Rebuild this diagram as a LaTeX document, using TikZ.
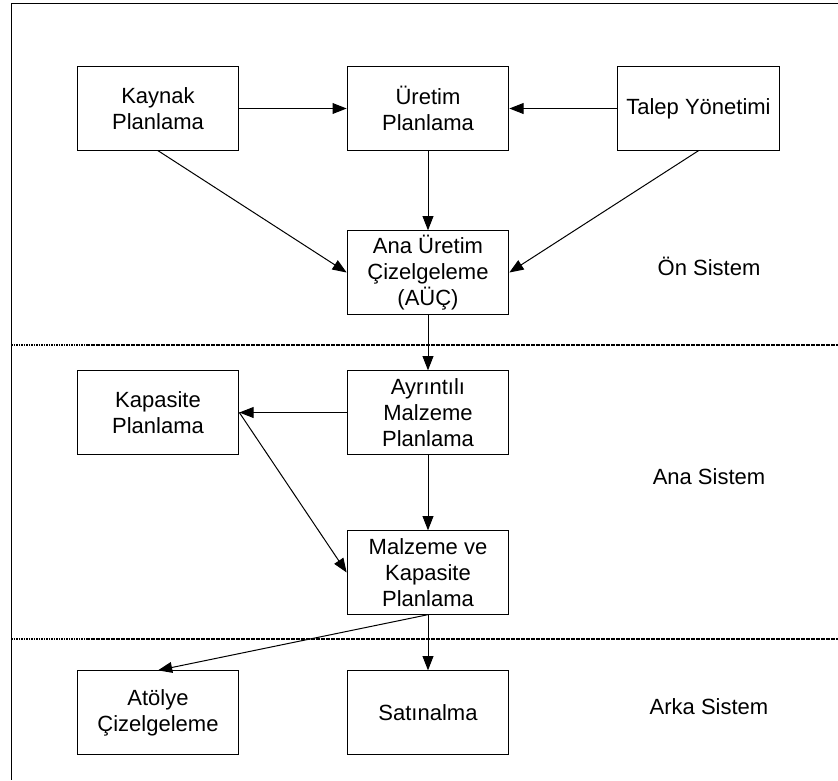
\documentclass[tikz,border=0pt]{standalone}
\usepackage{fontspec}
\setmainfont{Liberation Sans}
\usetikzlibrary{arrows.meta}

\begin{document}
\begin{tikzpicture}[x=0.6pt, y=-0.6pt, line width=0.6pt,
	every node/.style={font=\fontsize{13.2}{15.6}\selectfont},
	kutu/.style={draw, rectangle, align=center, minimum width=97pt, minimum height=50pt, inner sep=0pt},
	ok/.style={-{Triangle[length=8.5pt, width=6.5pt]}},
	ayrac/.style={line width=1.6pt, dash pattern=on 1pt off 0.5pt}]
	\useasboundingbox (0,0) rectangle (838,780);

	% cerceve ve bolum cizgileri
	\draw (838,3) -- (11,3) -- (11,780);
	\draw[ayrac] (11,345) -- (838,345);
	\draw[ayrac] (11,639) -- (838,639);

	% on sistem
	\node[kutu] (kaynak) at (158,108.5) {Kaynak\\Planlama};
	\node[kutu] (uretim) at (428,108.5) {Üretim\\Planlama};
	\node[kutu] (talep) at (698.5,108.5) {Talep Yönetimi};
	\node[kutu] (auc) at (428,272.5) {Ana Üretim\\Çizelgeleme\\(AÜÇ)};
	\node (onsis) at (709,266) {Ön Sistem};

	% ana sistem
	\node[kutu] (ayrintili) at (428,412.5) {Ayrıntılı\\Malzeme\\Planlama};
	\node[kutu] (kapasite) at (158,412.5) {Kapasite\\Planlama};
	\node[kutu] (mkp) at (428,572.5) {Malzeme ve\\Kapasite\\Planlama};
	\node (anasis) at (709,477) {Ana Sistem};

	% arka sistem
	\node[kutu] (atolye) at (158,712.5) {Atölye\\Çizelgeleme};
	\node[kutu] (satin) at (428,712.5) {Satınalma};
	\node (arkasis) at (709,707) {Arka Sistem};

	\draw[ok] (kaynak) -- (uretim);
	\draw[ok] (talep) -- (uretim);
	\draw[ok] (kaynak.south) -- (auc.west);
	\draw[ok] (uretim) -- (auc);
	\draw[ok] (talep.south) -- (auc.east);
	\draw[ok] (auc) -- (ayrintili);
	\draw[ok] (ayrintili) -- (kapasite);
	\draw[ok] (ayrintili) -- (mkp);
	\draw[ok] (kapasite.east) -- (mkp.west);
	\draw[ok] (mkp) -- (satin);
	\draw[ok] (mkp.south) -- (atolye.north);
\end{tikzpicture}
\end{document}
